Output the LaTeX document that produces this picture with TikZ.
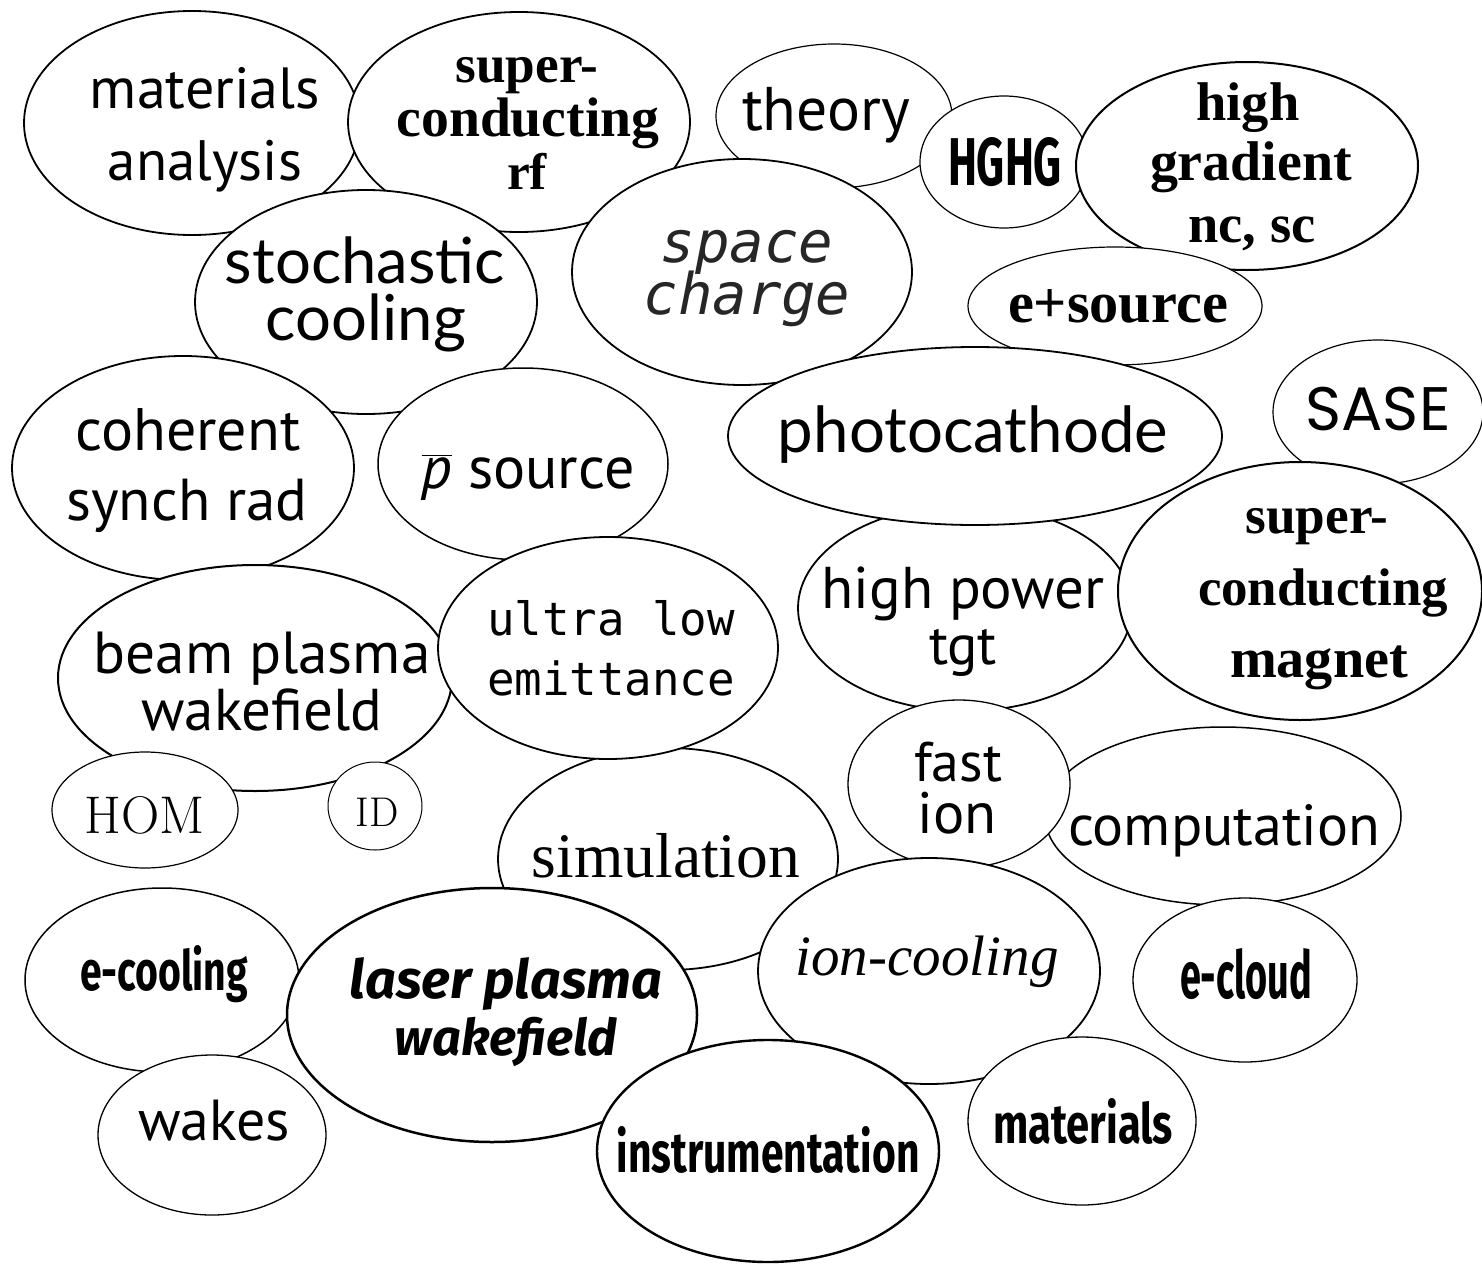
\documentclass[tikz,border=0pt]{standalone}
\usepackage{fontspec}
\usepackage{graphicx}
\usetikzlibrary{shapes.geometric}
\newfontfamily\myr{PT Sans}
\newfontfamily\gar{Liberation Serif}
\newfontfamily\latof{Lato}
\newfontfamily\monof{DejaVu Sans Mono}
\newfontfamily\fut{Fira Sans}
\newfontfamily\popf{Poppins}
\newfontfamily\lmr{Latin Modern Roman}
\newcommand\txw[2]{\resizebox{#1pt}{!}{#2}}
\newcommand\txwh[3]{\resizebox{#1pt}{#2pt}{#3}}
\begin{document}
\begin{tikzpicture}[x=1pt,y=-1pt,
  bub/.style={draw=black,fill=white,ellipse,inner sep=0pt,line width=1.8pt},
  lthin/.style={line width=1.2pt},
  lthick/.style={line width=2.5pt},
  tx/.style={anchor=base,inner sep=0pt,font=\fontsize{40}{48}\selectfont}]
\useasboundingbox[fill=white] (0,0) rectangle (1482,1263);
% ---- ellipses (back to front) ----
\node[bub,minimum width=336,minimum height=224] (e1) at (192,123) {};
\node[bub,minimum width=342,minimum height=220] (e2) at (519,122) {};
\node[bub,lthin,minimum width=236,minimum height=144] (e3) at (834,116) {};
\node[bub,lthin,minimum width=168,minimum height=132] (e4) at (1004,162) {};
\node[bub,line width=2pt,minimum width=342,minimum height=208] (e5) at (1247,166) {};
\node[bub,lthin,minimum width=294,minimum height=118] (e6) at (1115,306) {};
\node[bub,minimum width=342,minimum height=224] (e7) at (366,302) {};
\node[bub,minimum width=340,minimum height=226] (e8) at (742,272) {};
\node[bub,minimum width=342,minimum height=224] (e9) at (183,468) {};
\node[bub,line width=1.5pt,minimum width=290,minimum height=192] (e10) at (523,464) {};
\node[bub,minimum width=334,minimum height=206] (e11) at (965,608) {};
\node[bub,minimum width=494,minimum height=178] (e12) at (975,436) {};
\node[bub,lthin,minimum width=210,minimum height=144] (e13) at (1378,412) {};
\node[bub,line width=2pt,minimum width=364,minimum height=258] (e14) at (1300,591) {};
\node[bub,line width=2pt,minimum width=394,minimum height=226] (e15) at (255,678) {};
\node[bub,minimum width=340,minimum height=222] (e16) at (668,859) {};
\node[bub,minimum width=340,minimum height=222] (e17) at (608,648) {};
\node[bub,lthin,minimum width=186,minimum height=116] (e18) at (145,810) {};
\node[bub,line width=1pt,minimum width=94,minimum height=88] (e19) at (375,806) {};
\node[bub,line width=1.5pt,minimum width=356,minimum height=178] (e20) at (1223,816) {};
\node[bub,line width=1.3pt,minimum width=222,minimum height=168] (e21) at (959,784) {};
\node[bub,minimum width=342,minimum height=226] (e22) at (929,971) {};
\node[bub,line width=1.3pt,minimum width=224,minimum height=164] (e23) at (1245,980) {};
\node[bub,line width=1.5pt,minimum width=274,minimum height=184] (e24) at (162,980) {};
\node[bub,lthick,minimum width=410,minimum height=254] (e25) at (492,1015) {};
\node[bub,line width=1.3pt,minimum width=228,minimum height=160] (e26) at (212,1135) {};
\node[bub,line width=2.4pt,minimum width=342,minimum height=222] (e27) at (768,1151) {};
\node[bub,line width=1.3pt,minimum width=228,minimum height=168] (e28) at (1082,1121) {};
% ---- texts ----
\node[tx] (t1a) at (205,108) {\txw{230}{\myr materials}};
\node[tx] (t1b) at (205,180) {\txw{194}{\myr analysis}};
\node[tx] (t2a) at (527,82) {\txw{143}{\gar\bfseries super-}};
\node[tx] (t2b) at (528,136) {\txw{263}{\gar\bfseries conducting}};
\node[tx] (t2c) at (527,189) {\txw{40}{\gar\bfseries rf}};
\node[tx] (t3) at (826,130) {\txw{168}{\myr theory}};
\node[tx] (t4) at (1005,185) {\txwh{114}{48}{\fut\bfseries HGHG}};
\node[tx] (t5a) at (1248,120) {\txw{103}{\gar\bfseries high}};
\node[tx] (t5b) at (1251,180) {\txw{202}{\gar\bfseries gradient}};
\node[tx] (t5c) at (1252,242) {\txw{127}{\gar\bfseries nc, sc}};
\node[tx] (t6) at (1118,322) {\txw{220}{\gar\bfseries e+source}};
\node[tx] (t7a) at (365,283) {\txw{280}{\latof stochastic}};
\node[tx] (t7b) at (366,340) {\txw{200}{\latof cooling}};
\node[tx,text=black!85] (t8a) at (747,262) {\txw{173}{\monof\itshape space}};
\node[tx,text=black!85] (t8b) at (747,314) {\txw{207}{\monof\itshape charge}};
\node[tx] (t9a) at (188,450) {\txw{225}{\myr coherent}};
\node[tx] (t9b) at (187,520) {\txw{241}{\myr synch rad}};
\node[tx] (t10) at (528,488) {\txw{213}{\myr $\overline{\hbox{\myr\itshape p}}$ source}};
\node[tx] (t11a) at (963,608) {\txw{283}{\myr high power}};
\node[tx] (t11b) at (963,664) {\txw{68}{\myr tgt}};
\node[tx] (t12) at (973,452) {\txw{390}{\latof photocathode}};
\node[tx] (t13) at (1378,430) {\txw{145}{\popf SASE}};
\node[tx] (t14a) at (1317,533) {\txw{143}{\gar\bfseries super-}};
\node[tx] (t14b) at (1323,605) {\txw{250}{\gar\bfseries conducting}};
\node[tx] (t14c) at (1319,677) {\txw{178}{\gar\bfseries magnet}};
\node[tx] (t15a) at (262,673) {\txw{337}{\myr beam plasma}};
\node[tx] (t15b) at (262,730) {\txw{241}{\myr wakefield}};
\node[tx] (t17a) at (611,635) {\txw{248}{\monof ultra low}};
\node[tx] (t17b) at (611,695) {\txw{248}{\monof emittance}};
\node[tx] (t18) at (145,833) {\txw{120}{\lmr HOM}};
\node[tx] (t19) at (377,826) {\txw{43}{\lmr ID}};
\node[tx] (t16) at (666,877) {\txw{268}{\gar simulation}};
\node[tx] (t21a) at (958,781) {\txw{88}{\myr fast}};
\node[tx] (t21b) at (957,833) {\txw{79}{\myr ion}};
\node[tx] (t20) at (1224,845) {\txw{312}{\myr computation}};
\node[tx] (t24) at (164,990) {\txwh{168}{45}{\fut\bfseries e-cooling}};
\node[tx] (t25a) at (506,998) {\txw{312}{\fut\bfseries\itshape laser plasma}};
\node[tx] (t25b) at (506,1055) {\txw{222}{\fut\bfseries\itshape wakefield}};
\node[tx] (t22) at (927,975) {\txw{263}{\gar\itshape ion-cooling}};
\node[tx] (t23) at (1246,998) {\txwh{132}{50}{\fut\bfseries e-cloud}};
\node[tx] (t26) at (214,1140) {\txw{152}{\myr wakes}};
\node[tx] (t27) at (768,1172) {\txwh{303}{46}{\fut\bfseries instrumentation}};
\node[tx] (t28) at (1083,1143) {\txwh{180}{45}{\fut\bfseries materials}};
\end{tikzpicture}
\end{document}
